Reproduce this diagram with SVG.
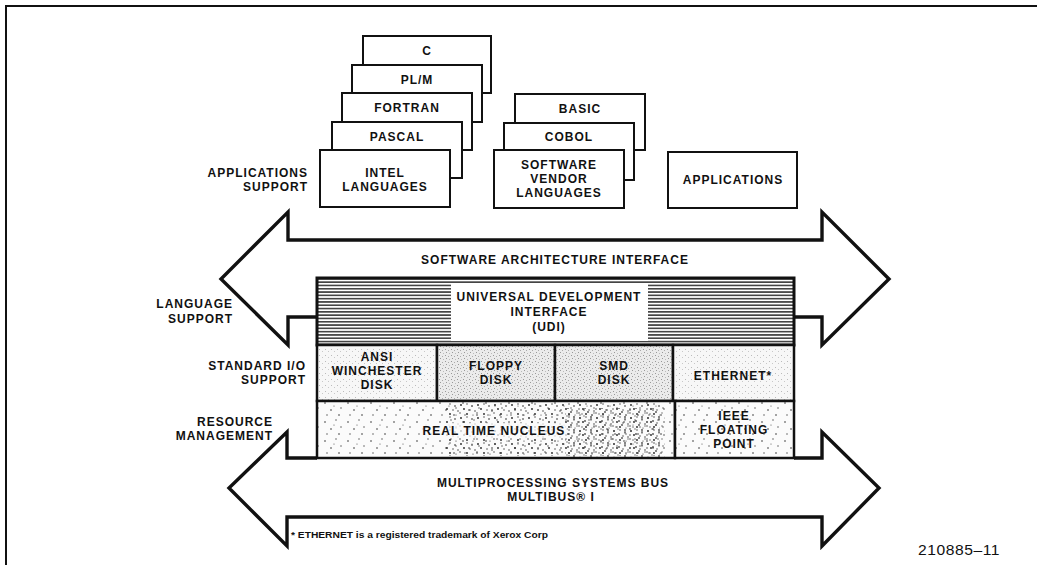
<svg xmlns="http://www.w3.org/2000/svg" width="1037" height="565" viewBox="0 0 1037 565">
<style>
  text { font-family: "Liberation Sans", Arial, sans-serif; font-weight: bold; font-size: 12px; letter-spacing: 1px; fill: #111; }
  .c { text-anchor: middle; }
  .r { text-anchor: end; }
  .box { fill: #fff; stroke: #111; stroke-width: 2; }
  .arrow { fill: none; stroke: #111; stroke-width: 3.4; stroke-linejoin: miter; }
  .cell { stroke: #111; stroke-width: 2.5; }
  .note { font-size: 9px; letter-spacing: 0; }
  .num { font-weight: normal; font-size: 14px; letter-spacing: 0.5px; }
</style>
<defs>
  <pattern id="hatch" width="8" height="3.3" patternUnits="userSpaceOnUse">
    <rect width="8" height="3.3" fill="#fff"/>
    <rect y="0.9" width="8" height="1.5" fill="#333"/>
  </pattern>
  <pattern id="stipLight" width="6" height="6" patternUnits="userSpaceOnUse">
    <rect width="6" height="6" fill="#f7f7f7"/>
    <rect x="1" y="1" width="1" height="1" fill="#bbb"/>
    <rect x="4" y="3" width="1" height="1" fill="#c8c8c8"/>
  </pattern>
  <pattern id="stipMid" width="6" height="6" patternUnits="userSpaceOnUse">
    <rect width="6" height="6" fill="#ebebeb"/>
    <rect x="1" y="1" width="1" height="1" fill="#999"/>
    <rect x="4" y="2" width="1" height="1" fill="#aaa"/>
    <rect x="2" y="4" width="1" height="1" fill="#999"/>
    <rect x="5" y="5" width="1" height="1" fill="#bbb"/>
  </pattern>
  <pattern id="speck" width="23" height="19" patternUnits="userSpaceOnUse">
    <rect width="23" height="19" fill="#fbfbfb"/>
    <circle cx="3" cy="4" r="0.8" fill="#333"/>
    <circle cx="14" cy="2" r="0.7" fill="#444"/>
    <circle cx="9" cy="11" r="0.8" fill="#333"/>
    <circle cx="19" cy="9" r="0.7" fill="#444"/>
    <circle cx="5" cy="16" r="0.7" fill="#444"/>
    <circle cx="17" cy="16" r="0.8" fill="#333"/>
    <circle cx="12" cy="7" r="0.6" fill="#555"/>
  </pattern>
  <pattern id="speckDense" width="17" height="13" patternUnits="userSpaceOnUse">
    <circle cx="2" cy="2" r="0.9" fill="#222"/>
    <circle cx="8" cy="1" r="0.7" fill="#333"/>
    <circle cx="13" cy="3" r="0.8" fill="#222"/>
    <circle cx="5" cy="6" r="0.9" fill="#222"/>
    <circle cx="11" cy="7" r="0.7" fill="#333"/>
    <circle cx="16" cy="8" r="0.7" fill="#222"/>
    <circle cx="1" cy="10" r="0.7" fill="#333"/>
    <circle cx="8" cy="11" r="0.9" fill="#222"/>
    <circle cx="14" cy="12" r="0.6" fill="#333"/>
  </pattern>
</defs>

<rect x="0" y="0" width="1037" height="565" fill="#fff"/>
<!-- frame -->
<path d="M6,565 L6,6 L1037,6" fill="none" stroke="#111" stroke-width="2"/>

<!-- Intel language stack -->
<g id="lang-c"><rect class="box" x="363" y="36" width="128" height="57"/><text class="c" x="427" y="55">C</text></g>
<g id="lang-plm"><rect class="box" x="352" y="65" width="130" height="57"/><text class="c" x="417" y="84">PL/M</text></g>
<g id="lang-fortran"><rect class="box" x="342" y="93" width="130" height="57"/><text class="c" x="407" y="112">FORTRAN</text></g>
<g id="lang-pascal"><rect class="box" x="332" y="122" width="130" height="56"/><text class="c" x="397" y="141">PASCAL</text></g>
<g id="intel-languages"><rect class="box" x="320" y="150" width="130" height="57"/>
  <text class="c" x="385" y="177">INTEL</text><text class="c" x="385" y="191">LANGUAGES</text></g>

<!-- Vendor stack -->
<g id="lang-basic"><rect class="box" x="515" y="94" width="130" height="56"/><text class="c" x="580" y="113">BASIC</text></g>
<g id="lang-cobol"><rect class="box" x="504" y="123" width="130" height="57"/><text class="c" x="569" y="141">COBOL</text></g>
<g id="vendor-languages"><rect class="box" x="494" y="150" width="130" height="58"/>
  <text class="c" x="559" y="169">SOFTWARE</text><text class="c" x="559" y="183">VENDOR</text><text class="c" x="559" y="197">LANGUAGES</text></g>

<g id="applications"><rect class="box" x="668" y="152" width="129" height="56"/><text class="c" x="733" y="184">APPLICATIONS</text></g>

<!-- side labels -->
<g id="label-applications-support"><text class="r" x="308" y="177">APPLICATIONS</text><text class="r" x="308" y="191">SUPPORT</text></g>
<g id="label-language-support"><text class="r" x="233" y="308">LANGUAGE</text><text class="r" x="233" y="323">SUPPORT</text></g>
<g id="label-standard-io"><text class="r" x="306" y="370">STANDARD I/O</text><text class="r" x="306" y="384">SUPPORT</text></g>
<g id="label-resource"><text class="r" x="273" y="426">RESOURCE</text><text class="r" x="273" y="440">MANAGEMENT</text></g>

<!-- connectors: the two interface arrows -->
<g id="connectors">
  <path id="arrow-sai" class="arrow" d="M317,317 L288,317 L288,345 L221,279 L288,212 L288,240 L822,240 L822,212 L889,279 L822,345 L822,317 L794,317"/>
  <path id="arrow-bus" class="arrow" d="M317,458 L287,458 L287,432 L229,488 L287,546 L287,517 L822,517 L822,546 L879,488 L822,432 L822,458 L794,458"/>
</g>

<g id="label-sai"><text class="c" x="555" y="264">SOFTWARE ARCHITECTURE INTERFACE</text></g>

<!-- UDI -->
<g id="udi">
  <rect x="317" y="278" width="477" height="67" fill="url(#hatch)"/>
  <rect x="451" y="283" width="197" height="58" fill="#fff"/>
  <rect x="317" y="278" width="477" height="67" fill="none" stroke="#111" stroke-width="3"/>
  <text class="c" x="549" y="301">UNIVERSAL DEVELOPMENT</text>
  <text class="c" x="549" y="316">INTERFACE</text>
  <text class="c" x="549" y="331">(UDI)</text>
</g>

<!-- I/O row -->
<g id="io-ansi"><rect class="cell" x="317" y="345" width="120" height="56" fill="url(#stipLight)"/>
  <text class="c" x="377" y="361">ANSI</text><text class="c" x="377" y="375">WINCHESTER</text><text class="c" x="377" y="389">DISK</text></g>
<g id="io-floppy"><rect class="cell" x="437" y="345" width="118" height="56" fill="url(#stipMid)"/>
  <text class="c" x="496" y="370">FLOPPY</text><text class="c" x="496" y="384">DISK</text></g>
<g id="io-smd"><rect class="cell" x="555" y="345" width="118" height="56" fill="url(#stipMid)"/>
  <text class="c" x="614" y="370">SMD</text><text class="c" x="614" y="384">DISK</text></g>
<g id="io-ethernet"><rect class="cell" x="673" y="345" width="121" height="56" fill="url(#stipLight)"/>
  <text class="c" x="733" y="380">ETHERNET*</text></g>

<!-- resource row -->
<g id="real-time-nucleus"><rect class="cell" x="317" y="401" width="358" height="57" fill="url(#speck)"/>
  <rect x="445" y="403" width="215" height="53" fill="url(#speckDense)"/>
  <rect x="560" y="405" width="100" height="49" fill="url(#speckDense)" transform="translate(5,3)" opacity="0.8"/>
  <rect x="421" y="423" width="146" height="15" fill="#fbfbfb" opacity="0.75"/>
  <text class="c" x="494" y="435">REAL TIME NUCLEUS</text></g>
<g id="ieee-floating-point"><rect class="cell" x="675" y="401" width="119" height="57" fill="url(#speck)"/>
  <text class="c" x="734" y="420">IEEE</text><text class="c" x="734" y="434">FLOATING</text><text class="c" x="734" y="448">POINT</text></g>

<g id="label-bus"><text class="c" x="553" y="487">MULTIPROCESSING SYSTEMS BUS</text><text class="c" x="551" y="501">MULTIBUS® I</text></g>

<g id="footnote"><text class="note" x="291" y="538" textLength="257" lengthAdjust="spacingAndGlyphs">* ETHERNET is a registered trademark of Xerox Corp</text></g>
<g id="figure-number"><text class="num" x="918" y="555" textLength="82" lengthAdjust="spacingAndGlyphs">210885–11</text></g>
</svg>
